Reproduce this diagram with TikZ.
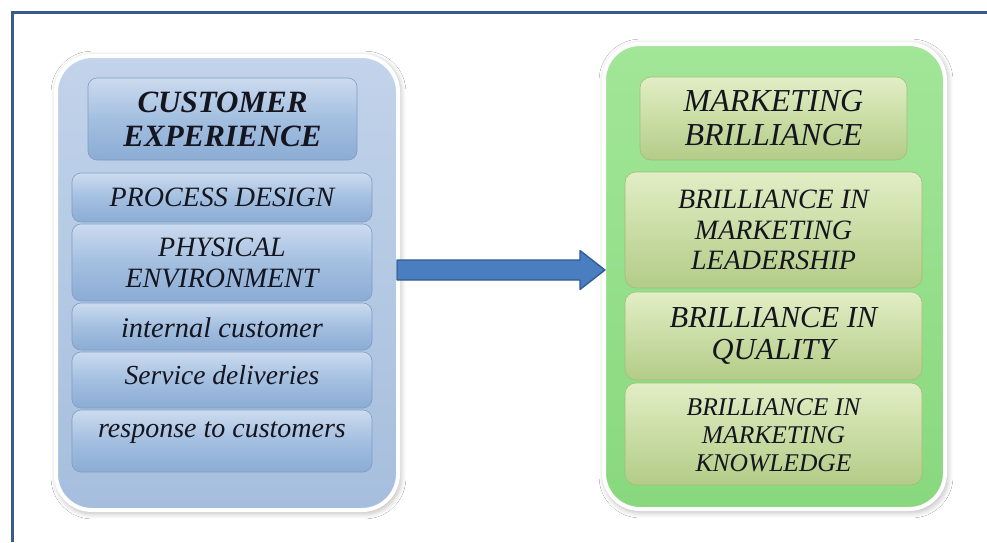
\documentclass[tikz,border=0pt]{standalone}
\usepackage{fontspec}
\setmainfont{Liberation Serif}
\usetikzlibrary{calc,shadows.blur}
\definecolor{frameblue}{HTML}{3D5A8C}
\definecolor{louterT}{HTML}{C2D3EA}
\definecolor{louterB}{HTML}{A6BEDD}
\definecolor{linT}{HTML}{CCDBEF}
\definecolor{linM}{HTML}{A3BFE0}
\definecolor{linB}{HTML}{8CACD4}
\definecolor{linD}{HTML}{7E9DC6}
\definecolor{routerT}{HTML}{A2E698}
\definecolor{routerB}{HTML}{88D87E}
\definecolor{rinT}{HTML}{E2EEC6}
\definecolor{rinM}{HTML}{CADDA5}
\definecolor{rinB}{HTML}{B3CC88}
\definecolor{rinD}{HTML}{A3BD78}
\definecolor{arrowfill}{HTML}{4A7EC0}
\definecolor{arrowdraw}{HTML}{2E5B94}
\definecolor{ink}{HTML}{15151F}
\begin{document}
\begin{tikzpicture}[x=1pt,y=-1pt,
  outerbox/.style={rounded corners=36pt, draw=white, line width=4pt,
    blur shadow={shadow blur steps=8, shadow xshift=1.5pt, shadow yshift=-2pt,
      shadow scale=1.008, shadow blur radius=5pt, shadow opacity=25}},
  lbox/.style={rounded corners=9pt, draw=linD, line width=0.6pt,
    top color=linT, bottom color=linB, middle color=linM},
  rbox/.style={rounded corners=11pt, draw=rinD, line width=0.6pt,
    top color=rinT, bottom color=rinB, middle color=rinM},
  txt/.style={text=ink, align=center, inner sep=0pt, font=\itshape},
  bigarrow/.style={fill=arrowfill, draw=arrowdraw, line width=1.3pt, line join=round}
]
\useasboundingbox (0,0) rectangle (987,542);
\fill[white] (0,0) rectangle (987,542);
% frame
\draw[frameblue, line width=3pt] (12,542) -- (12,12) -- (987,12);

% outer boxes
\node[outerbox, top color=louterT, bottom color=louterB, minimum width=342pt, minimum height=454pt] (L) at (227,283) {};
\node[outerbox, top color=routerT, bottom color=routerB, minimum width=341pt, minimum height=465pt] (R) at (774.5,276.5) {};

% left inner boxes
\node[lbox, minimum width=269pt, minimum height=82pt] (lt) at (222.5,119) {};
\node[lbox, minimum width=300pt, minimum height=49pt] (l1) at (222,197.5) {};
\node[lbox, minimum width=300pt, minimum height=77pt] (l2) at (222,262.5) {};
\node[lbox, minimum width=300pt, minimum height=47pt] (l3) at (222,326.5) {};
\node[lbox, minimum width=300pt, minimum height=56pt] (l4) at (222,380) {};
\node[lbox, minimum width=300pt, minimum height=62pt] (l5) at (222,441) {};

\node[txt, font=\bfseries\itshape\fontsize{31}{34}\selectfont] (ltt) at (lt.center) {CUSTOMER\\EXPERIENCE};
\node[txt, font=\itshape\fontsize{28}{31}\selectfont] (l1t) at (l1.center) {PROCESS DESIGN};
\node[txt, font=\itshape\fontsize{28}{31}\selectfont] (l2t) at (l2.center) {PHYSICAL\\ENVIRONMENT};
\node[txt, font=\itshape\fontsize{28.5}{31}\selectfont, yshift=-1pt] (l3t) at (l3.center) {internal customer};
\node[txt, font=\itshape\fontsize{27.5}{31}\selectfont, yshift=5pt] (l4t) at (l4.center) {Service deliveries};
\node[txt, font=\itshape\fontsize{28}{31}\selectfont, yshift=8pt] (l5t) at (l5.center) {response to customers};

% right inner boxes
\node[rbox, minimum width=267pt, minimum height=83pt] (rt) at (773.5,118.5) {};
\node[rbox, minimum width=297pt, minimum height=116pt] (r1) at (773.5,230) {};
\node[rbox, minimum width=297pt, minimum height=88pt] (r2) at (773.5,336) {};
\node[rbox, minimum width=297pt, minimum height=102pt] (r3) at (773.5,434) {};

\node[txt, font=\itshape\fontsize{32}{34}\selectfont] (rtt) at (rt.center) {MARKETING\\BRILLIANCE};
\node[txt, font=\itshape\fontsize{28}{30.5}\selectfont] (r1t) at (r1.center) {BRILLIANCE IN\\MARKETING\\LEADERSHIP};
\node[txt, font=\itshape\fontsize{30.5}{32}\selectfont] (r2t) at (r2.center) {BRILLIANCE IN\\QUALITY};
\node[txt, font=\itshape\fontsize{25.5}{28}\selectfont, yshift=-1pt] (r3t) at (r3.center) {BRILLIANCE IN\\MARKETING\\KNOWLEDGE};

% arrow from L to R
\coordinate (a) at ($(L.east)+(-3,-13)$);
\coordinate (b) at ($(R.west)+(3,-6.5)$);
\draw[bigarrow] ($(a)+(0,-10)$) -- ($(b |- a)+(-25,-10)$) -- ($(b |- a)+(-25,-19.5)$) -- (b |- a)
  -- ($(b |- a)+(-25,19.5)$) -- ($(b |- a)+(-25,10)$) -- ($(a)+(0,10)$) -- cycle;
\end{tikzpicture}
\end{document}
